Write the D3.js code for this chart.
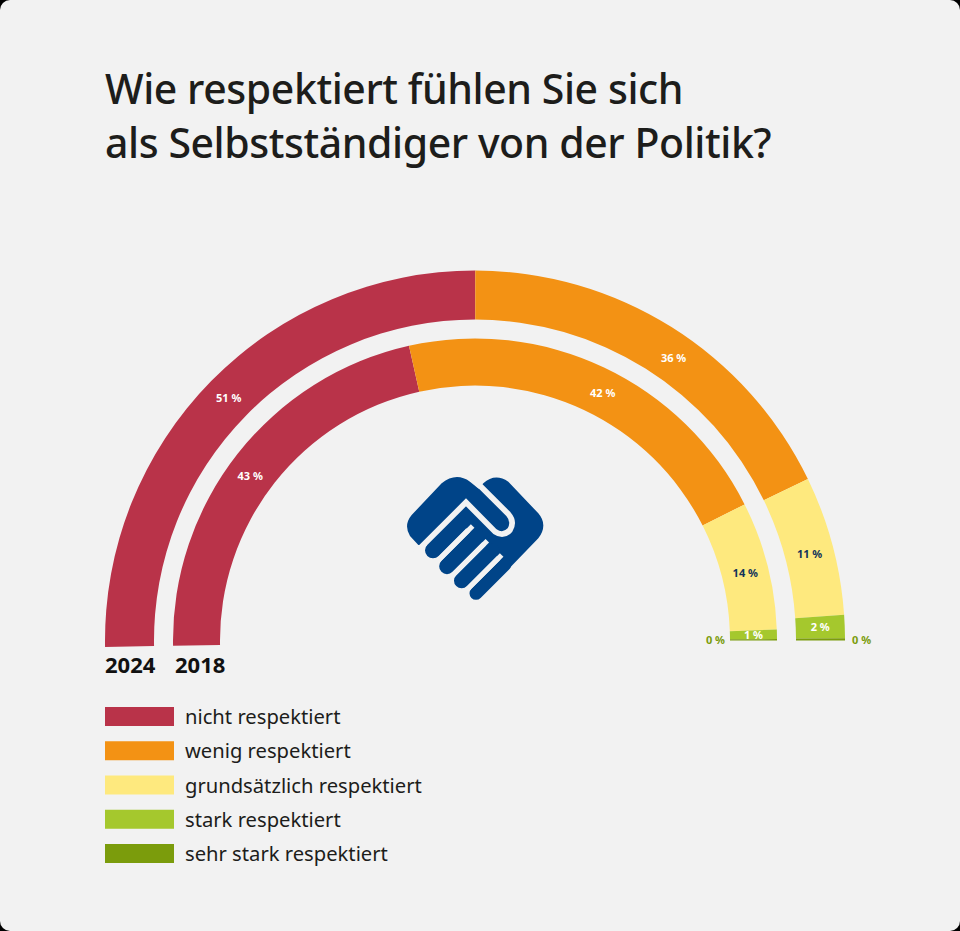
<!DOCTYPE html>
<html>
<head>
<meta charset="utf-8">
<script src="https://cdn.jsdelivr.net/npm/d3@7"></script>
<style>
  html, body { margin: 0; padding: 0; background: #000; }
  svg { display: block; font-family: "Noto Sans", sans-serif; }
</style>
</head>
<body>
<div id="vis"></div>
<script>
const categories = ["nicht respektiert", "wenig respektiert", "grundsätzlich respektiert", "stark respektiert", "sehr stark respektiert"]
const colours = ["#b93349", "#f39214", "#fee97e", "#a5c82d", "#7b9c0c"]
const values2024 = [50.3, 35.4, 12.1, 2.0, 0.2]
const values2018 = [43.3, 41.9, 13.65, 1.0, 0.15]
const labels2024 = ["51 %", "36 %", "11 %", "2 %", "0 %"]
const labels2018 = ["43 %", "42 %", "14 %", "1 %", "0 %"]
const labelColours = ["#fff", "#fff", "#12345a", "#fff", "#7b9c0c"]
const titleLines = ["Wie respektiert fühlen Sie sich", "als Selbstständiger von der Politik?"]

const width = 960
const height = 931
const cx = 475
const cy = 640.5
const deg = Math.PI / 180

const svg = d3.select("#vis").append("svg")
  .attr("width", width)
  .attr("height", height)

// card with rounded corners
svg.append("rect")
  .attr("width", width)
  .attr("height", height)
  .attr("rx", 10)
  .attr("fill", "#f2f2f2")

// title
svg.append("g")
  .selectAll("text")
  .data(titleLines)
  .join("text")
  .attr("x", 105)
  .attr("y", (d, i) => 104 + i * 53.5)
  .attr("font-size", 41)
  .attr("font-weight", 500)
  .attr("letter-spacing", -0.43)
  .attr("fill", "#1d1d1b")
  .text(d => d)

const pie = d3.pie()
  .sort(null)
  .startAngle(-91 * deg)
  .endAngle(90 * deg)

// labels sit a little off the slice centre in the original, nudge is in degrees
const drawRing = (values, labels, nudge, inner, outer, zeroX, zeroAnchor) => {
  const arc = d3.arc().innerRadius(inner).outerRadius(outer)
  const slices = pie(values)
  const g = svg.append("g").attr("transform", `translate(${cx},${cy})`)

  const labelPos = (d, i) => {
    const a = (d.startAngle + d.endAngle) / 2 + nudge[i] * deg
    return arc.centroid({ startAngle: a, endAngle: a })
  }

  g.selectAll("path")
    .data(slices)
    .join("path")
    .attr("fill", (d, i) => colours[i])
    .attr("d", arc)

  g.selectAll("text")
    .data(slices)
    .join("text")
    .attr("text-anchor", (d, i) => i == 4 ? zeroAnchor : "middle")
    .attr("x", (d, i) => i == 4 ? zeroX - cx : labelPos(d, i)[0])
    .attr("y", (d, i) => i == 4 ? 0 : labelPos(d, i)[1])
    .attr("dy", "0.35em")
    .attr("font-size", 11)
    .attr("font-weight", 700)
    .attr("fill", (d, i) => labelColours[i])
    .text((d, i) => labels[i])
}

drawRing(values2024, labels2024, [0, 3, 0.5, 0, 0], 321, 370, 852, "start")
drawRing(values2018, labels2018, [-2, 2, 0.5, 0, 0], 255, 302, 725, "end")

// year labels under the ring starts
svg.append("g")
  .selectAll("text")
  .data([["2024", 105], ["2018", 175]])
  .join("text")
  .attr("x", d => d[1])
  .attr("y", 673)
  .attr("font-size", 22)
  .attr("font-weight", 700)
  .attr("fill", "#111")
  .text(d => d[0])

// legend
const legendY = d3.scalePoint()
  .domain(categories)
  .range([716, 853])

const legend = svg.append("g")
  .selectAll("g")
  .data(categories)
  .join("g")
  .attr("transform", d => `translate(105,${legendY(d)})`)

legend.append("rect")
  .attr("y", -9)
  .attr("width", 69)
  .attr("height", 19)
  .attr("fill", (d, i) => colours[i])

legend.append("text")
  .attr("x", 80)
  .attr("y", 1)
  .attr("dy", "0.35em")
  .attr("font-size", 20.2)
  .attr("fill", "#1d1d1b")
  .text(d => d)

// handshake logo, drawn in 3x units like the zoomed crop
const logo = svg.append("g")
  .attr("transform", "translate(380,450) scale(0.3333)")

logo.append("path")
  .attr("fill", "#004488")
  .attr("d", "M115,285 L90,258 Q70,225 95,195 L185,100 Q228,65 270,95 L296,116 L310,100 Q345,68 385,95 L475,190 Q505,225 475,265 L391,352 L375,343 L335,302 L290,260 L240,220 L150,285 Z")

const fingers = [
  [159, 301, 240, 220, 48],
  [201, 349, 290, 260, 47],
  [245, 392, 335, 302, 46],
  [288, 430, 375, 343, 39]
]

logo.selectAll("line.finger")
  .data(fingers)
  .join("line")
  .attr("class", "finger")
  .attr("x1", d => d[0])
  .attr("y1", d => d[1])
  .attr("x2", d => d[2])
  .attr("y2", d => d[3])
  .attr("stroke", "#004488")
  .attr("stroke-width", d => d[4])
  .attr("stroke-linecap", "round")

const gaps = [
  [158, 348, 278, 228],
  [202, 392, 322, 272],
  [245, 435, 365, 315]
]

logo.selectAll("line.gap")
  .data(gaps)
  .join("line")
  .attr("class", "gap")
  .attr("x1", d => d[0])
  .attr("y1", d => d[1])
  .attr("x2", d => d[2])
  .attr("y2", d => d[3])
  .attr("stroke", "#f2f2f2")
  .attr("stroke-width", 15)

logo.append("path")
  .attr("fill", "none")
  .attr("stroke", "#f2f2f2")
  .attr("stroke-width", 17)
  .attr("d", "M105,310 L258,157 L345,245 Q370,262 390,240 Q405,215 385,192 L288,95")
</script>
</body>
</html>
